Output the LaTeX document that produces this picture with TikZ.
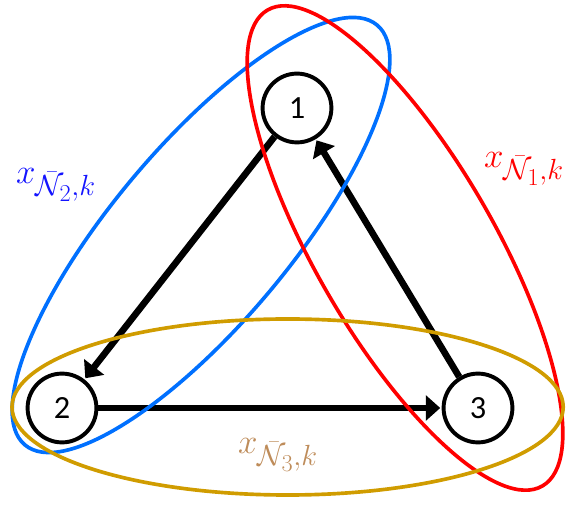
\documentclass[tikz,border=0pt]{standalone}
\usepackage{fontspec}
\newfontfamily\numfont{Carlito}
\usepackage{tikz}
\usetikzlibrary{arrows.meta,positioning}
\definecolor{oneColor}{RGB}{255,0,0}
\definecolor{twoColor}{RGB}{0,112,255}
\definecolor{threeColor}{RGB}{208,156,0}
\definecolor{twoLabColor}{RGB}{20,20,255}
\definecolor{threeLabColor}{RGB}{190,140,90}
\tikzset{agent state/.style={circle, draw=black, line width=2.8pt, minimum size=1.72cm, inner sep=0pt, font=\numfont\fontsize{23}{26}\selectfont}}
\tikzset{link/.style={-{Triangle[length=0.36cm,width=0.62cm]}, line width=4.7pt, shorten >=1pt}}
\tikzset{group set/.style={line width=2.6pt}}
\tikzset{group label/.style={inner sep=0pt, font=\fontsize{32}{36}\selectfont}}
\newcommand{\xset}[1]{x_{\bar{\mathcal{N}}_{#1},k}}

\begin{document}
\begin{tikzpicture}
			\useasboundingbox (0,0) rectangle (14.575,12.675);
			\node[agent state] at (7.425,9.975) (n_1) {1};
			\node[agent state] at (1.55,2.475)  (n_2) {2};
			\node[agent state] at (11.95,2.475) (n_3) {3};
			\path (n_1) edge[link] (n_2);
			\path (n_2) edge[link] (n_3);
			\path (n_3) edge[link] (n_1);
			% sets of neighbours
			\draw[group set, twoColor, shift={(5.025,6.8)}, rotate=50] (0,0) ellipse (6.85cm and 2.22cm);
			\draw[group set, oneColor, shift={(10.125,6.475)}, rotate=-60] (0,0) ellipse (6.87cm and 2.24cm);
			\draw[group set, threeColor] (7.19,2.5) ellipse (6.89cm and 2.2cm);
			\node[group label, text=twoLabColor] at (1.4,8.05) (l_2) {$\xset{2}$};
			\node[group label, text=oneColor] at (13.1,8.45) (l_1) {$\xset{1}$};
			\node[group label, text=threeLabColor] at (6.95,1.3) (l_3) {$\xset{3}$};
\end{tikzpicture}
\end{document}
